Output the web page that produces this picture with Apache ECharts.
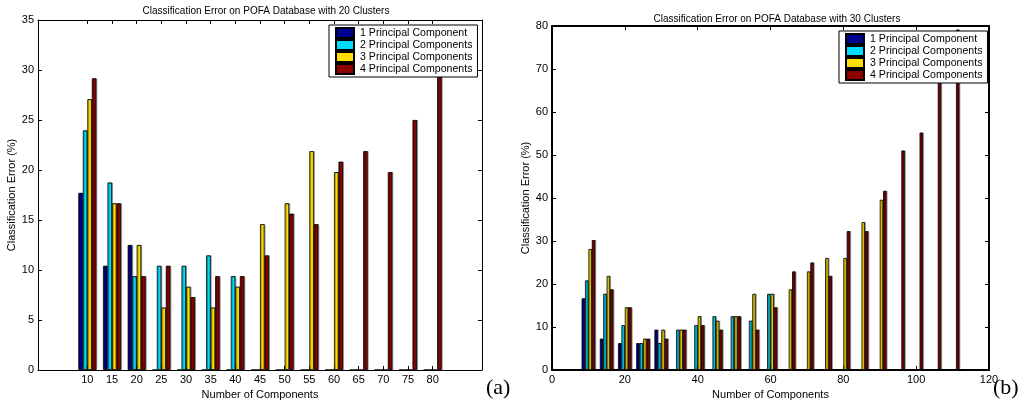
<!DOCTYPE html>
<html>
<head>
<meta charset="utf-8">
<script src="https://cdn.jsdelivr.net/npm/echarts@6/dist/echarts.min.js"></script>
<style>
  html, body { margin: 0; padding: 0; background: #fff; }
  #main { width: 1034px; height: 408px; }
</style>
</head>
<body>
<div id="main"></div>
<script>
// left panel: 20 clusters
const groupsA = [10, 15, 20, 25, 30, 35, 40, 45, 50, 55, 60, 65, 70, 75, 80];
const pc1A = [17.71, 10.42, 12.5, 0, 0, 0, 0, 0, 0, 0, 0, 0, 0, 0, 0];
const pc2A = [23.96, 18.75, 9.38, 10.42, 10.42, 11.46, 9.38, 0, 0, 0, 0, 0, 0, 0, 0];
const pc3A = [27.08, 16.67, 12.5, 6.25, 8.33, 6.25, 8.33, 14.58, 16.67, 21.88, 19.79, 0, 0, 0, 0];
const pc4A = [29.17, 16.67, 9.38, 10.42, 7.29, 9.38, 9.38, 11.46, 15.63, 14.58, 20.83, 21.88, 19.79, 25.0, 31.25];

// right panel: 30 clusters
const groupsB = [10, 15, 20, 25, 30, 35, 40, 45, 50, 55, 60, 65, 70, 75, 80, 85, 90, 95, 100, 105, 110];
const pc1B = [16.67, 7.29, 6.25, 6.25, 9.38, 0, 0, 0, 0, 0, 0, 0, 0, 0, 0, 0, 0, 0, 0, 0, 0];
const pc2B = [20.83, 17.71, 10.42, 6.25, 6.25, 9.38, 10.42, 12.5, 12.5, 11.46, 17.71, 0, 0, 0, 0, 0, 0, 0, 0, 0, 0];
const pc3B = [28.13, 21.88, 14.58, 7.29, 9.38, 9.38, 12.5, 11.46, 12.5, 17.71, 17.71, 18.75, 22.92, 26.04, 26.04, 34.38, 39.58, 0, 0, 0, 0];
const pc4B = [30.21, 18.75, 14.58, 7.29, 7.29, 9.38, 10.42, 9.38, 12.5, 9.38, 14.58, 22.92, 25.0, 21.88, 32.29, 32.29, 41.67, 51.04, 55.21, 67.71, 79.17];

const names = ["1 Principal Component", "2 Principal Components", "3 Principal Components", "4 Principal Components"];
const colors = ["#00008f", "#00dcff", "#ffe000", "#8c0000"];
const xTicksA = [10, 15, 20, 25, 30, 35, 40, 45, 50, 55, 60, 65, 70, 75, 80];

const font = "Liberation Sans";
const myChart = echarts.init(document.getElementById("main"));

function makeSeries(vals, groups, i, xi, yi, w) {
  return {
    name: names[i],
    type: "bar",
    xAxisIndex: xi,
    yAxisIndex: yi,
    barWidth: w,
    barGap: "0%",
    itemStyle: {
      color: colors[i],
      borderColor: "#000",
      borderWidth: 0.8,
      shadowColor: "rgba(0,0,0,0.35)",
      shadowOffsetX: 1,
      shadowBlur: 0,
    },
    emphasis: { disabled: true },
    animation: false,
    data: groups.map((g, k) => [g, vals[k]]),
  };
}

function boxAxis(gi, pos, min, max, interval, extra) {
  return Object.assign({
    type: "value",
    gridIndex: gi,
    position: pos,
    min: min,
    max: max,
    interval: interval,
    splitLine: { show: false },
    axisLine: { show: true, onZero: false, lineStyle: { color: "#000", width: 1 } },
    axisTick: { show: true, inside: true, length: 4, lineStyle: { color: "#000" } },
    axisLabel: { show: false },
  }, extra || {});
}

function legendAt(left, top) {
  return {
    data: names, orient: "vertical", left: left, top: top,
    backgroundColor: "#fff", borderColor: "#000", borderWidth: 1, padding: [2, 5, 2, 6],
    itemWidth: 18, itemHeight: 10, itemGap: 0, icon: "rect", selectedMode: false,
    textStyle: { fontFamily: font, fontSize: 10.6, lineHeight: 12, color: "#000", padding: [0, 0, 0, 1] },
  };
}

const labelStyle = { show: true, color: "#000", fontFamily: font, fontSize: 11, margin: 4 };
const nameStyle = { color: "#000", fontFamily: font, fontSize: 11 };

const option = {
  animation: false,
  title: [
    { text: "Classification Error on POFA Database with 20 Clusters", left: 261, top: 1, textAlign: "center",
      textStyle: { fontFamily: font, fontSize: 10, fontWeight: "normal", color: "#000" } },
    { text: "Classification Error on POFA Database with 30 Clusters", left: 772, top: 9, textAlign: "center",
      textStyle: { fontFamily: font, fontSize: 10, fontWeight: "normal", color: "#000" } },
  ],
  legend: [legendAt(329, 25), legendAt(839, 31)],
  grid: [
    { left: 38, top: 20, right: 552, bottom: 38 },
    { left: 552, top: 26, right: 45, bottom: 38 },
  ],
  xAxis: [
    boxAxis(0, "bottom", 0, 90, 5, {
      axisTick: { show: true, inside: true, length: 4, customValues: xTicksA, lineStyle: { color: "#000" } },
      axisLabel: Object.assign({ customValues: xTicksA }, labelStyle),
      name: "Number of Components", nameLocation: "middle", nameGap: 17, nameTextStyle: nameStyle,
    }),
    boxAxis(0, "top", 0, 90, 5, {
      axisTick: { show: true, inside: true, length: 4, customValues: xTicksA, lineStyle: { color: "#000" } },
    }),
    boxAxis(1, "bottom", 0, 120, 20, {
      axisLine: { show: true, onZero: false, lineStyle: { color: "#000", width: 2 } },
      axisLabel: labelStyle,
      name: "Number of Components", nameLocation: "middle", nameGap: 17, nameTextStyle: nameStyle,
    }),
    boxAxis(1, "top", 0, 120, 20, {
      axisLine: { show: true, onZero: false, lineStyle: { color: "#000", width: 2 } },
    }),
  ],
  yAxis: [
    boxAxis(0, "left", 0, 35, 5, {
      axisLabel: labelStyle,
      name: "Classification Error (%)", nameLocation: "middle", nameGap: 21, nameTextStyle: nameStyle,
    }),
    boxAxis(0, "right", 0, 35, 5),
    boxAxis(1, "left", 0, 80, 10, {
      axisLine: { show: true, onZero: false, lineStyle: { color: "#000", width: 2 } },
      axisLabel: labelStyle,
      name: "Classification Error (%)", nameLocation: "middle", nameGap: 21, nameTextStyle: nameStyle,
    }),
    boxAxis(1, "right", 0, 80, 10, {
      axisLine: { show: true, onZero: false, lineStyle: { color: "#000", width: 2 } },
    }),
  ],
  graphic: [
    { type: "text", left: 486, top: 377, style: { text: "(a)", font: "22px 'Liberation Serif'", fill: "#000" } },
    { type: "text", left: 993, top: 377, style: { text: "(b)", font: "22px 'Liberation Serif'", fill: "#000" } },
  ],
  series: [
    makeSeries(pc1A, groupsA, 0, 0, 0, 4.5),
    makeSeries(pc2A, groupsA, 1, 0, 0, 4.5),
    makeSeries(pc3A, groupsA, 2, 0, 0, 4.5),
    makeSeries(pc4A, groupsA, 3, 0, 0, 4.5),
    makeSeries(pc1B, groupsB, 0, 2, 2, 3.4),
    makeSeries(pc2B, groupsB, 1, 2, 2, 3.4),
    makeSeries(pc3B, groupsB, 2, 2, 2, 3.4),
    makeSeries(pc4B, groupsB, 3, 2, 2, 3.4),
  ],
};

myChart.setOption(option);
</script>
</body>
</html>
